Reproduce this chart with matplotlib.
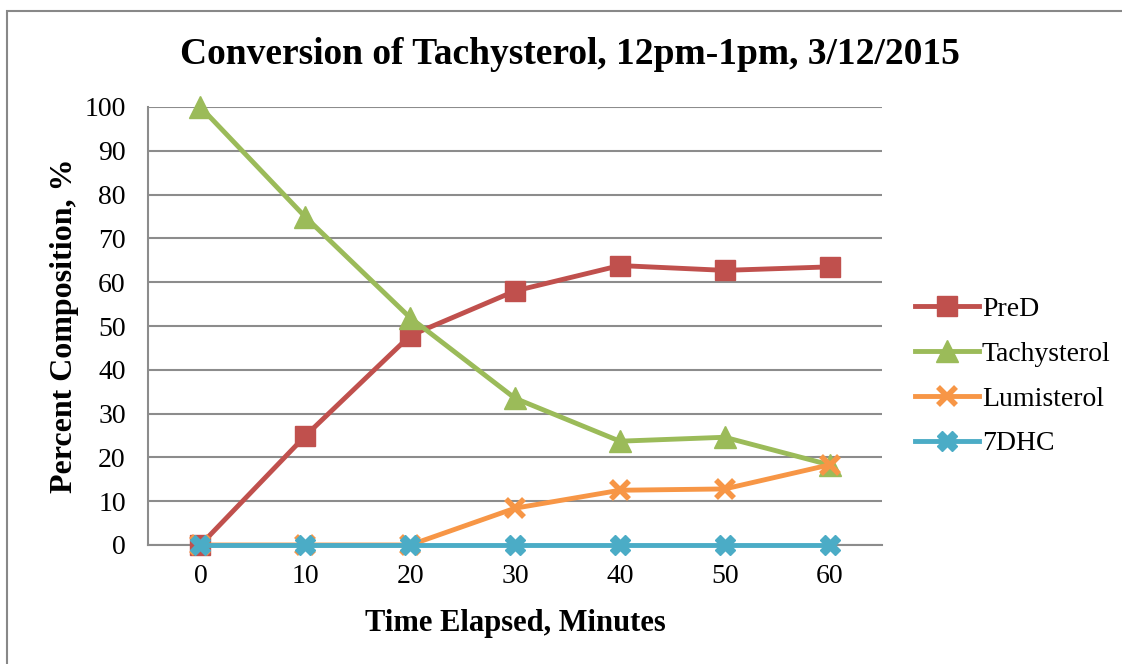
import matplotlib
matplotlib.use("Agg")
import matplotlib.pyplot as plt
from matplotlib.patches import Rectangle

minutes = [0, 10, 20, 30, 40, 50, 60]
pred = [0, 24.9, 47.8, 58.0, 63.8, 62.7, 63.5]
tachysterol = [100, 74.9, 51.9, 33.5, 23.7, 24.6, 18.3]
lumisterol = [0, 0, 0, 8.4, 12.5, 12.8, 18.3]
dhc7 = [0, 0, 0, 0, 0, 0, 0]
yticks = list(range(0, 101, 10))

plt.rcParams['font.family'] = ['Liberation Serif', 'DejaVu Serif']

fig = plt.figure(figsize=(11.22, 6.64), dpi=100)
fig.patches.append(Rectangle((7/1122, -0.1), 1.2, (664-11)/664 + 0.1,
                             transform=fig.transFigure, fill=False,
                             edgecolor='#888888', linewidth=1.5))
ax = fig.add_axes([148/1122, (664-545)/664, (882-148)/1122, (545-107)/664])

xs = list(range(len(minutes)))
ax.plot(xs, pred, color='#C0504D', linewidth=3.5, marker='s', markersize=15,
        markeredgecolor='#C0504D', label='PreD', zorder=3, clip_on=False)
ax.plot(xs, tachysterol, color='#9BBB59', linewidth=3.5, marker='^', markersize=16,
        markeredgecolor='#9BBB59', label='Tachysterol', zorder=4, clip_on=False)
ax.plot(xs, lumisterol, color='#F79646', linewidth=3.5, marker='x', markersize=13,
        markeredgewidth=4, label='Lumisterol', zorder=5, clip_on=False)
ax.plot(xs, dhc7, color='#4BACC6', linewidth=3.5, marker='X', markersize=15,
        markeredgecolor='#4BACC6', label='7DHC', zorder=6, clip_on=False)

ax.set_xlim(-0.5, len(minutes) - 0.5)
ax.set_ylim(0, 100)
ax.set_xticks(xs)
ax.set_xticklabels([str(m) for m in minutes])
ax.set_yticks(yticks)
ax.tick_params(length=0, labelsize=20)
ax.tick_params(axis='x', pad=14)
ax.tick_params(axis='y', pad=16)
ax.yaxis.grid(True, color='#8C8C8C', linewidth=1.5)
ax.set_axisbelow(True)
for s in ['top', 'right']:
    ax.spines[s].set_visible(False)
ax.spines['left'].set_color('#8C8C8C')
ax.spines['left'].set_linewidth(1.5)
ax.spines['bottom'].set_color('#8C8C8C')
ax.spines['bottom'].set_linewidth(1.5)

ax.set_xlabel('Time Elapsed, Minutes', fontsize=22, fontweight='bold', labelpad=14)
ax.set_ylabel('Percent Composition, %', fontsize=23, fontweight='bold', labelpad=4)
fig.text(570/1122, 1 - 55/664, 'Conversion of Tachysterol, 12pm-1pm, 3/12/2015',
         ha='center', va='center', fontsize=27, fontweight='bold')

leg = ax.legend(loc='center left', bbox_to_anchor=(1.03, 0.385), frameon=False,
                fontsize=20, handlelength=2.3, handletextpad=0.1, labelspacing=0.7,
                borderaxespad=0)

fig.savefig('out.png', dpi=100)
